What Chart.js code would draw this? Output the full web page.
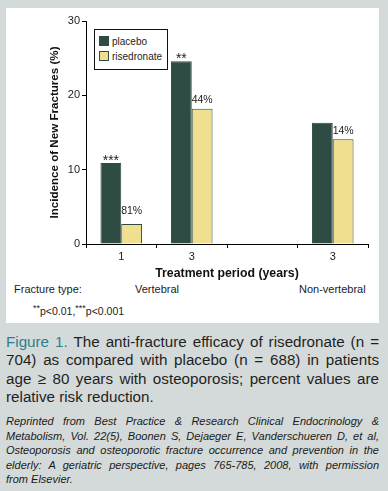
<!DOCTYPE html>
<html lang="en">
<head>
<meta charset="UTF-8">
<title>Risedronate anti-fracture efficacy</title>
<style>
  body { margin:0; width:388px; height:491px; background:#d4dad9; position:relative; overflow:hidden;
         font-family:"Liberation Sans", Arial, sans-serif; color:#1c1c1c; }
  #panel { position:absolute; left:6px; top:8px; width:373px; height:315px; background:#fff; }
  #chart { position:absolute; left:0; top:0; }
  #legend { position:absolute; left:88px; top:21px; width:72px; height:39px; border:1px solid #111;
            background:#fff; font-size:10px; }
  #legend div { position:absolute; left:4px; height:13px; line-height:13px; white-space:nowrap; }
  #legend span.box { display:inline-block; width:8px; height:8px; border:1px solid #2e4b44;
                     vertical-align:-1px; margin-right:3px; }
  .ftype { position:absolute; top:274.5px; font-size:11px; line-height:13px; white-space:nowrap; }
  #pnote { position:absolute; left:27px; top:296.5px; font-size:10.5px; line-height:13px; }
  #pnote sup { font-size:9px; vertical-align:4px; line-height:0; }
  #caption { position:absolute; left:6px; top:332.5px; width:373px; font-size:15.2px; line-height:18.5px; color:#1f1f1f; }
  #caption div, #reprint div { text-align:justify; text-align-last:justify; white-space:nowrap; }
  #caption div.last, #reprint div.last { text-align-last:left; }
  #caption b { font-weight:normal; color:#2f7e8b; }
  #reprint { position:absolute; left:6px; top:414px; width:373px; font-family:"Liberation Sans Narrow", "Liberation Sans", Arial, sans-serif;
             font-style:italic; font-size:11px; line-height:14.6px; color:#1a1a1a; }
</style>
</head>
<body>
<div id="panel">
  <canvas id="chart" width="373" height="274"></canvas>
  <div id="legend"></div>
  <div class="ftype" style="left:8px;">Fracture type:</div>
  <div class="ftype" style="left:129px;">Vertebral</div>
  <div class="ftype" style="left:293px;">Non-vertebral</div>
  <div id="pnote"><sup>**</sup>p&lt;0.01,<sup>***</sup>p&lt;0.001</div>
</div>
<div id="caption">
  <div><b>Figure 1.</b> The anti-fracture efficacy of risedronate (n =</div>
  <div>704) as compared with placebo (n = 688) in patients</div>
  <div>age &#8805; 80 years with osteoporosis; percent values are</div>
  <div class="last">relative risk reduction.</div>
</div>
<div id="reprint">
  <div>Reprinted from Best Practice &amp; Research Clinical Endocrinology &amp;</div>
  <div>Metabolism, Vol. 22(5), Boonen S, Dejaeger E, Vanderschueren D, et al,</div>
  <div>Osteoporosis and osteoporotic fracture occurrence and prevention in the</div>
  <div>elderly: A geriatric perspective, pages 765-785, 2008, with permission</div>
  <div class="last">from Elsevier.</div>
</div>
<script src="https://cdn.jsdelivr.net/npm/chart.js@4/dist/chart.umd.min.js"></script>
<script>
// treatment period per group (years); third slot is the empty gap between fracture types
let periods = ['1', '3', '', '3'];
let placebo = [10.9, 24.6, null, 16.3];
let risedronate = [2.7, 18.2, null, 14.1];
let significance = ['***', '**', '', ''];
let riskReduction = ['81%', '44%', '', '14%'];
let yTicks = [0, 10, 20, 30];

let dark = '#2e4b44';
let yellow = '#f0df8e';

// stars over placebo bars, risk reduction over risedronate bars
const barNotes = {
    id: 'barNotes',
    afterDatasetsDraw(chart, args, opts) {
        const ctx = chart.ctx;
        ctx.save();
        ctx.fillStyle = '#1c1c1c';
        ctx.textAlign = 'center';
        ctx.textBaseline = 'alphabetic';
        ctx.font = '14px "Liberation Sans"';
        chart.getDatasetMeta(0).data.forEach(function (bar, i) {
            if (significance[i]) ctx.fillText(significance[i], bar.x, bar.y + 2);
        });
        ctx.font = '10.5px "Liberation Sans"';
        chart.getDatasetMeta(1).data.forEach(function (bar, i) {
            if (riskReduction[i]) ctx.fillText(riskReduction[i], bar.x, bar.y - opts.lift[i]);
        });
        ctx.restore();
    }
};

let chart = new Chart('chart', {
    type: 'bar',
    data: {
        labels: periods,
        datasets: [{
            label: 'placebo',
            data: placebo,
            backgroundColor: dark,
            borderColor: dark,
            borderWidth: 1
        }, {
            label: 'risedronate',
            data: risedronate,
            backgroundColor: yellow,
            borderColor: dark,
            borderWidth: 1
        }]
    },
    options: {
        responsive: false,
        animation: false,
        devicePixelRatio: 1,
        categoryPercentage: 0.59,
        barPercentage: 1,
        layout: { padding: { left: 42, top: 13, right: 11, bottom: 1 } },
        plugins: {
            legend: { display: false },
            tooltip: { enabled: false },
            barNotes: { lift: [10, 6, 0, 5] }
        },
        scales: {
            x: {
                grid: { drawOnChartArea: false, drawTicks: true, tickLength: 4, color: '#000', offset: true },
                border: { color: '#000', width: 1 },
                ticks: { color: '#1c1c1c', font: { family: 'Liberation Sans', size: 11 }, padding: 2 },
                title: {
                    display: true, text: 'Treatment period (years)', color: '#111',
                    font: { family: 'Liberation Sans', size: 12.3, weight: 'bold' },
                    padding: { top: 1, bottom: 0 }
                }
            },
            y: {
                min: 0, max: 30,
                afterBuildTicks: function (scale) {
                    scale.ticks = yTicks.map(function (v) { return { value: v }; });
                },
                afterFit: function (scale) { scale.width = 38; },
                grid: { drawOnChartArea: false, drawTicks: true, tickLength: 4, color: '#000' },
                border: { color: '#000', width: 1 },
                ticks: { color: '#1c1c1c', font: { family: 'Liberation Sans', size: 11 }, padding: 2 },
                title: {
                    display: true, text: 'Incidence of New Fractures (%)', color: '#111',
                    font: { family: 'Liberation Sans', size: 11.6, weight: 'bold' },
                    padding: 0
                }
            }
        }
    },
    plugins: [barNotes]
});

// legend box from the chart's own datasets
let legend = document.getElementById('legend');
chart.data.datasets.forEach(function (ds, i) {
    let row = document.createElement('div');
    row.style.top = (5 + i * 15) + 'px';
    row.innerHTML = '<span class="box" style="background:' + ds.backgroundColor + '"></span>' + ds.label;
    legend.appendChild(row);
});
</script>
</body>
</html>
